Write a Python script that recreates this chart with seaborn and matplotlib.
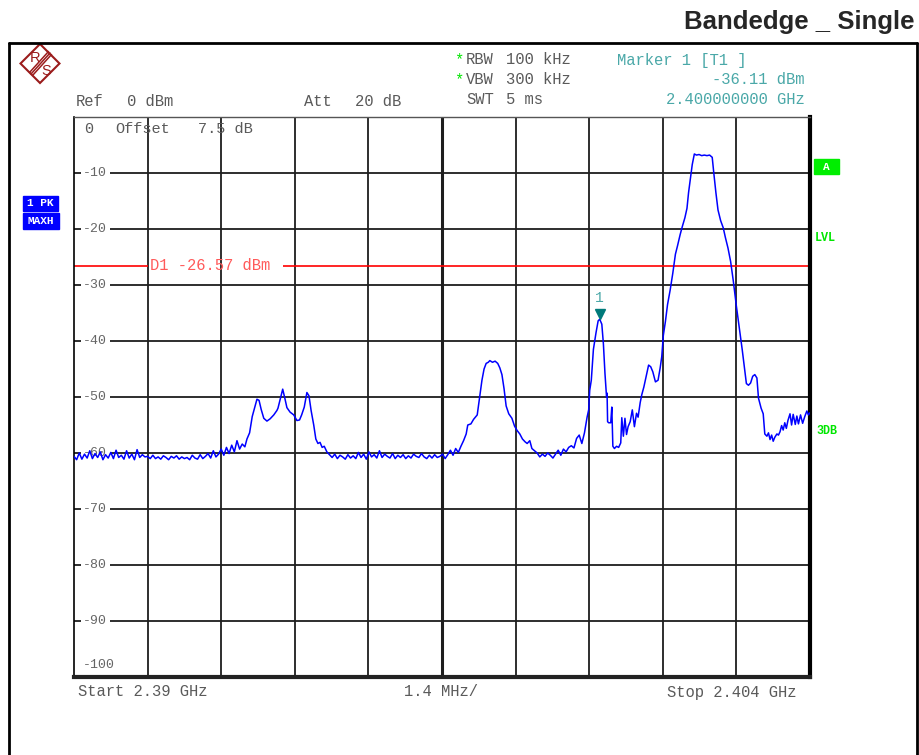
import matplotlib
matplotlib.use("Agg")
import matplotlib.pyplot as plt
import matplotlib.patches as patches
from matplotlib.lines import Line2D
import seaborn as sns

# trace (frequency in MHz, level in dBm)
freq_mhz = [
    2390.00, 2390.05, 2390.10, 2390.15, 2390.20, 2390.25, 2390.30, 2390.35, 2390.40, 2390.45,
    2390.50, 2390.55, 2390.60, 2390.65, 2390.70, 2390.75, 2390.80, 2390.85, 2390.90, 2390.95,
    2391.00, 2391.05, 2391.10, 2391.15, 2391.20, 2391.25, 2391.30, 2391.35, 2391.40, 2391.45,
    2391.50, 2391.55, 2391.60, 2391.65, 2391.70, 2391.75, 2391.80, 2391.85, 2391.90, 2391.95,
    2392.00, 2392.05, 2392.10, 2392.15, 2392.20, 2392.25, 2392.30, 2392.35, 2392.40, 2392.45,
    2392.50, 2392.55, 2392.60, 2392.65, 2392.70, 2392.75, 2392.80, 2392.85, 2392.90, 2392.95,
    2393.00, 2393.05, 2393.10, 2393.15, 2393.20,
    2393.25, 2393.29, 2393.34, 2393.39, 2393.44, 2393.48, 2393.52, 2393.56, 2393.61, 2393.67,
    2393.73, 2393.80, 2393.86, 2393.88, 2393.92, 2393.97, 2394.01, 2394.05, 2394.11, 2394.18,
    2394.24, 2394.29, 2394.33, 2394.38, 2394.43, 2394.47, 2394.51, 2394.56, 2394.60, 2394.64,
    2394.68, 2394.72, 2394.76, 2394.81, 2394.86,
    2394.91, 2394.96, 2395.01, 2395.06, 2395.11, 2395.16, 2395.21, 2395.26, 2395.31, 2395.36,
    2395.41, 2395.46, 2395.51, 2395.56, 2395.61, 2395.66, 2395.71, 2395.76, 2395.81, 2395.86,
    2395.91, 2395.96, 2396.01, 2396.06, 2396.11, 2396.16, 2396.21, 2396.26, 2396.31, 2396.36,
    2396.41, 2396.46, 2396.51, 2396.56, 2396.61, 2396.66, 2396.71, 2396.76, 2396.81, 2396.86,
    2396.91, 2396.96, 2397.01, 2397.06, 2397.11, 2397.16, 2397.21, 2397.26, 2397.31, 2397.36,
    2397.41, 2397.46, 2397.49, 2397.55, 2397.60, 2397.67, 2397.71, 2397.76, 2397.80, 2397.84,
    2397.88, 2397.91, 2397.96, 2398.01, 2398.06, 2398.10, 2398.14, 2398.18, 2398.22, 2398.27,
    2398.33, 2398.38, 2398.43, 2398.48, 2398.53, 2398.58, 2398.62, 2398.67, 2398.71, 2398.76,
    2398.81, 2398.86, 2398.91, 2398.96, 2399.01, 2399.06, 2399.11, 2399.16, 2399.21, 2399.26,
    2399.31, 2399.36, 2399.41, 2399.46, 2399.51, 2399.56, 2399.61, 2399.66, 2399.71, 2399.76,
    2399.79, 2399.81, 2399.84, 2399.88, 2399.93, 2399.97, 2400.00, 2400.04, 2400.07, 2400.10,
    2400.13, 2400.14, 2400.15, 2400.17, 2400.21, 2400.23, 2400.25, 2400.28, 2400.32, 2400.36,
    2400.40, 2400.42, 2400.45, 2400.48, 2400.51, 2400.54, 2400.58, 2400.62, 2400.66, 2400.70,
    2400.73, 2400.77, 2400.80, 2400.84, 2400.88, 2400.93, 2400.97, 2401.01, 2401.06, 2401.11,
    2401.15, 2401.18, 2401.21, 2401.25, 2401.29, 2401.34, 2401.39, 2401.44, 2401.48, 2401.53,
    2401.57, 2401.62, 2401.66, 2401.69, 2401.72, 2401.76, 2401.80, 2401.84, 2401.89, 2401.94,
    2401.99, 2402.04, 2402.09, 2402.14, 2402.17, 2402.21, 2402.25, 2402.30, 2402.35, 2402.39,
    2402.44, 2402.49, 2402.54, 2402.60, 2402.66, 2402.71, 2402.75, 2402.79, 2402.83, 2402.87,
    2402.91, 2402.95, 2402.99, 2403.02, 2403.07, 2403.11, 2403.14, 2403.18, 2403.21, 2403.24,
    2403.27, 2403.30, 2403.33, 2403.37, 2403.40, 2403.43, 2403.46, 2403.49, 2403.52, 2403.55,
    2403.58, 2403.62, 2403.65, 2403.68, 2403.72, 2403.75, 2403.78, 2403.82, 2403.86, 2403.90,
    2403.94, 2403.97, 2404.00,
]
level_dbm = [
    -60.6, -61.2, -60.0, -61.1, -60.2, -60.9, -59.6, -61.0, -60.1, -60.8,
    -59.8, -61.2, -60.3, -60.9, -59.9, -61.0, -59.5, -60.8, -60.4, -61.1,
    -59.6, -60.9, -60.2, -61.2, -59.4, -60.8, -60.3, -60.7, -60.6, -61.0,
    -60.4, -61.0, -60.7, -61.1, -60.5, -60.8, -61.2, -60.6, -60.9, -60.5,
    -61.1, -60.7, -61.0, -60.8, -61.2, -60.4, -60.9, -61.1, -60.3, -61.0,
    -60.6, -60.1, -60.9, -59.6, -60.7, -60.2, -59.3, -60.4, -59.0, -60.1,
    -58.6, -59.8, -57.8, -59.3, -58.4,
    -58.9, -57.5, -56.4, -53.5, -51.8, -50.4, -50.6, -52.2, -53.8, -54.3,
    -53.9, -53.2, -52.4, -52.0, -50.5, -48.6, -50.2, -51.9, -52.7, -53.2,
    -54.2, -54.1, -53.2, -51.8, -49.2, -49.8, -52.4, -55.0, -57.5, -58.3,
    -58.1, -59.0, -58.8, -59.8, -60.3,
    -60.8, -60.2, -61.0, -60.4, -60.7, -61.1, -60.3, -60.9, -60.5, -61.0,
    -59.9, -60.8, -60.2, -61.1, -59.8, -60.7, -60.3, -60.9, -59.6, -60.8,
    -60.2, -60.6, -60.9, -60.1, -61.0, -60.4, -60.8, -60.3, -61.0, -60.5,
    -60.9, -60.2, -60.6, -60.8, -60.1, -60.7, -61.0, -60.4, -60.9, -60.3,
    -60.8, -60.6, -60.2, -61.0, -60.3, -59.5, -60.4, -59.2, -59.9, -58.8,
    -57.8, -56.6, -55.0, -54.8, -54.0, -53.2, -50.5, -47.0, -45.0, -44.0,
    -43.8, -43.5, -43.8, -43.6, -44.0, -44.8, -46.0, -48.5, -51.6, -53.0,
    -53.8, -55.2, -56.0, -56.6, -57.5, -58.0, -58.3, -57.8, -59.2, -59.6,
    -60.0, -60.7, -60.2, -60.6, -60.0, -60.4, -60.9, -60.2, -59.5, -60.4,
    -59.3, -59.8, -59.0, -58.7, -59.1, -57.4, -56.8, -58.3, -56.4, -53.6,
    -52.3, -48.8, -47.0, -41.5, -38.5, -36.4, -36.11, -37.0, -40.5, -45.8,
    -50.0, -49.3, -54.4, -54.6, -54.6, -51.8, -58.8, -59.2, -58.8, -59.0,
    -58.2, -53.7, -57.0, -53.8, -56.7, -55.3, -54.4, -52.3, -55.3, -52.9,
    -53.6, -51.0, -49.6, -48.2, -46.5, -44.3, -44.6, -45.5, -47.3, -47.0,
    -44.8, -42.8, -39.0, -36.5, -33.5, -30.9, -27.9, -24.5, -23.0, -21.0,
    -19.6, -18.0, -16.3, -13.5, -11.3, -8.5, -6.6, -6.8, -6.7, -6.9,
    -6.8, -6.9, -6.8, -7.2, -10.0, -13.5, -16.6, -18.5, -19.8, -21.5,
    -23.4, -25.8, -29.2, -33.8, -38.0, -41.5, -44.6, -47.6, -47.9, -47.5,
    -46.3, -46.0, -46.6, -50.2, -52.0, -53.0, -56.6, -57.0, -56.4, -57.6,
    -56.8, -57.9, -57.2, -56.6, -56.8, -56.2, -55.1, -55.9, -54.6, -55.6,
    -54.2, -53.0, -55.0, -53.1, -54.9, -53.4, -54.8, -53.2, -54.7, -53.5,
    -52.5, -53.2, -52.8,
]

f_start = 2390.0
f_stop = 2404.0
grid_freqs = [2391.4, 2392.8, 2394.2, 2395.6, 2397.0, 2398.4, 2399.8, 2401.2, 2402.6]
grid_levels = [-10, -20, -30, -40, -50, -60, -70, -80, -90]
tick_labels = ["-10", "-20", "-30", "-40", "-50", "-60", "-70", "-80", "-90"]
d1_level = -26.57
marker_freq = 2400.0
marker_level = -36.11

W, H = 919, 755


def fx(x):
    return x / W


def fy(y):
    return 1 - y / H


def px_to_f(x):
    return f_start + (x - 74) * (f_stop - f_start) / 736


sns.set_style("white")
plt.rcParams['font.family'] = ['Liberation Mono', 'DejaVu Sans Mono']

fig = plt.figure(figsize=(W / 100, H / 100), dpi=100)
ax = fig.add_axes([fx(74), fy(677), 736 / W, 560 / H])

# grid
for f in grid_freqs:
    lw = 2.2 if f == 2397.0 else 1.3
    ax.axvline(f, color='#1e1e1e', lw=lw, zorder=1)
for lv in grid_levels:
    ax.hlines(lv, f_start, px_to_f(81), color='#1e1e1e', lw=1.3, zorder=1)
    ax.hlines(lv, px_to_f(110), f_stop, color='#1e1e1e', lw=1.3, zorder=1)
for lv, lab in zip(grid_levels, tick_labels):
    ax.text(px_to_f(83), lv, lab, ha='left', va='center', fontsize=9.5, color='#666666')
ax.text(px_to_f(83), -97.9, "-100", ha='left', va='center', fontsize=9.5, color='#666666')

# display line D1
ax.hlines(d1_level, f_start, px_to_f(148), color='red', lw=1.2, zorder=2)
ax.hlines(d1_level, px_to_f(283), f_stop, color='red', lw=1.2, zorder=2)
ax.text(px_to_f(150), d1_level, "D1 -26.57 dBm", ha='left', va='center',
        fontsize=11.2, color='#ff5a5a', zorder=3)

# trace
sns.lineplot(x=freq_mhz, y=level_dbm, ax=ax, color='#0000ff', lw=1.1,
             estimator=None, sort=False, zorder=4)

# marker 1
ax.plot([marker_freq], [marker_level + 1.0], marker='v', color='#007a7a', ms=7,
        ls='none', zorder=5)
ax.text(marker_freq, -32.3, "1", ha='center', va='center', fontsize=10.5, color='#4aa8a8')

ax.text(px_to_f(84), -2.2, "0", ha='left', va='center', fontsize=11, color='#5a5a5a')
ax.text(px_to_f(115), -2.2, "Offset", ha='left', va='center', fontsize=11, color='#5a5a5a')
ax.text(px_to_f(198), -2.2, "7.5 dB", ha='left', va='center', fontsize=11, color='#5a5a5a')

ax.set_xlim(f_start, f_stop)
ax.set_ylim(-100, 0)
ax.set_xticks([])
ax.set_yticks([])
ax.set_xlabel("")
ax.set_ylabel("")
ax.spines['left'].set_linewidth(1.2)
ax.spines['left'].set_color('black')
ax.spines['right'].set_linewidth(3)
ax.spines['right'].set_color('black')
ax.spines['top'].set_linewidth(1.0)
ax.spines['top'].set_color('#555555')
ax.spines['bottom'].set_linewidth(3)
ax.spines['bottom'].set_color('#222222')

# outer frame
fig.add_artist(Line2D([fx(9), fx(9)], [fy(43), 0], color='black', lw=2))
fig.add_artist(Line2D([fx(9), fx(917)], [fy(43), fy(43)], color='black', lw=2))
fig.add_artist(Line2D([fx(917), fx(917)], [fy(43), 0], color='black', lw=2))

# title
fig.text(fx(915), fy(22), "Bandedge _ Single", ha='right', va='center', fontsize=18.5,
         fontweight='bold', family=['Liberation Sans', 'DejaVu Sans'])

# R&S logo
logo = '#9b1c1c'
cx, cy, r = 40, 63.5, 19.5
fig.add_artist(patches.Polygon([(fx(cx - r), fy(cy)), (fx(cx), fy(cy - r)),
                                (fx(cx + r), fy(cy)), (fx(cx), fy(cy + r))],
                               closed=True, fill=False, ec=logo, lw=1.5))
for k in (-1.5, 0, 1.5):
    fig.add_artist(Line2D([fx(50 + k), fx(31 + k)], [fy(53 + k), fy(74 + k)],
                          color=logo, lw=1.1))
fig.text(fx(35), fy(58), "R", ha='center', va='center', fontsize=10.5, color=logo,
         family=['Liberation Sans', 'DejaVu Sans'])
fig.text(fx(46), fy(71), "S", ha='center', va='center', fontsize=10.5, color=logo,
         family=['Liberation Sans', 'DejaVu Sans'])

# header texts
gray = '#5a5a5a'
teal = '#4aa8a8'
green = '#00e600'
fs = 11.2
fig.text(fx(76), fy(101), "Ref", ha='left', va='center', fontsize=fs, color=gray)
fig.text(fx(127), fy(101), "0 dBm", ha='left', va='center', fontsize=fs, color=gray)
fig.text(fx(304), fy(101), "Att", ha='left', va='center', fontsize=fs, color=gray)
fig.text(fx(355), fy(101), "20 dB", ha='left', va='center', fontsize=fs, color=gray)
fig.text(fx(454), fy(60), "*", ha='left', va='center', fontsize=fs, color=green)
fig.text(fx(466), fy(60), "RBW", ha='left', va='center', fontsize=fs, color=gray)
fig.text(fx(506), fy(60), "100 kHz", ha='left', va='center', fontsize=fs, color=gray)
fig.text(fx(454), fy(80), "*", ha='left', va='center', fontsize=fs, color=green)
fig.text(fx(466), fy(80), "VBW", ha='left', va='center', fontsize=fs, color=gray)
fig.text(fx(506), fy(80), "300 kHz", ha='left', va='center', fontsize=fs, color=gray)
fig.text(fx(466), fy(100), "SWT", ha='left', va='center', fontsize=fs, color=gray)
fig.text(fx(506), fy(100), "5 ms", ha='left', va='center', fontsize=fs, color=gray)
fig.text(fx(617), fy(60), "Marker 1 [T1 ]", ha='left', va='center', fontsize=fs, color=teal)
fig.text(fx(805), fy(80), "-36.11 dBm", ha='right', va='center', fontsize=fs, color=teal)
fig.text(fx(805), fy(100), "2.400000000 GHz", ha='right', va='center', fontsize=fs, color=teal)

# bottom texts
fig.text(fx(78), fy(692), "Start 2.39 GHz", ha='left', va='center', fontsize=fs, color=gray)
fig.text(fx(404), fy(692), "1.4 MHz/", ha='left', va='center', fontsize=fs, color=gray)
fig.text(fx(667), fy(692), "Stop 2.404 GHz", ha='left', va='center', fontsize=fs, color=gray)

# trace info boxes
fig.add_artist(patches.Rectangle((fx(23), fy(211)), 35 / W, 15 / H, color='#0000ff'))
fig.add_artist(patches.Rectangle((fx(23), fy(229)), 36 / W, 16 / H, color='#0000ff'))
fig.text(fx(40.5), fy(203.5), "1 PK", ha='center', va='center', fontsize=8,
         color='white', fontweight='bold')
fig.text(fx(41), fy(221), "MAXH", ha='center', va='center', fontsize=8,
         color='white', fontweight='bold')

# right side indicators
fig.add_artist(patches.Rectangle((fx(814), fy(174)), 25 / W, 15 / H, color='#00ee00'))
fig.text(fx(826.5), fy(166.5), "A", ha='center', va='center', fontsize=8,
         color='white', fontweight='bold')
fig.text(fx(815), fy(238), "LVL", ha='left', va='center', fontsize=8.5,
         color=green, fontweight='bold')
fig.text(fx(816), fy(431), "3DB", ha='left', va='center', fontsize=8.5,
         color=green, fontweight='bold')

fig.savefig("out.png", dpi=100)
